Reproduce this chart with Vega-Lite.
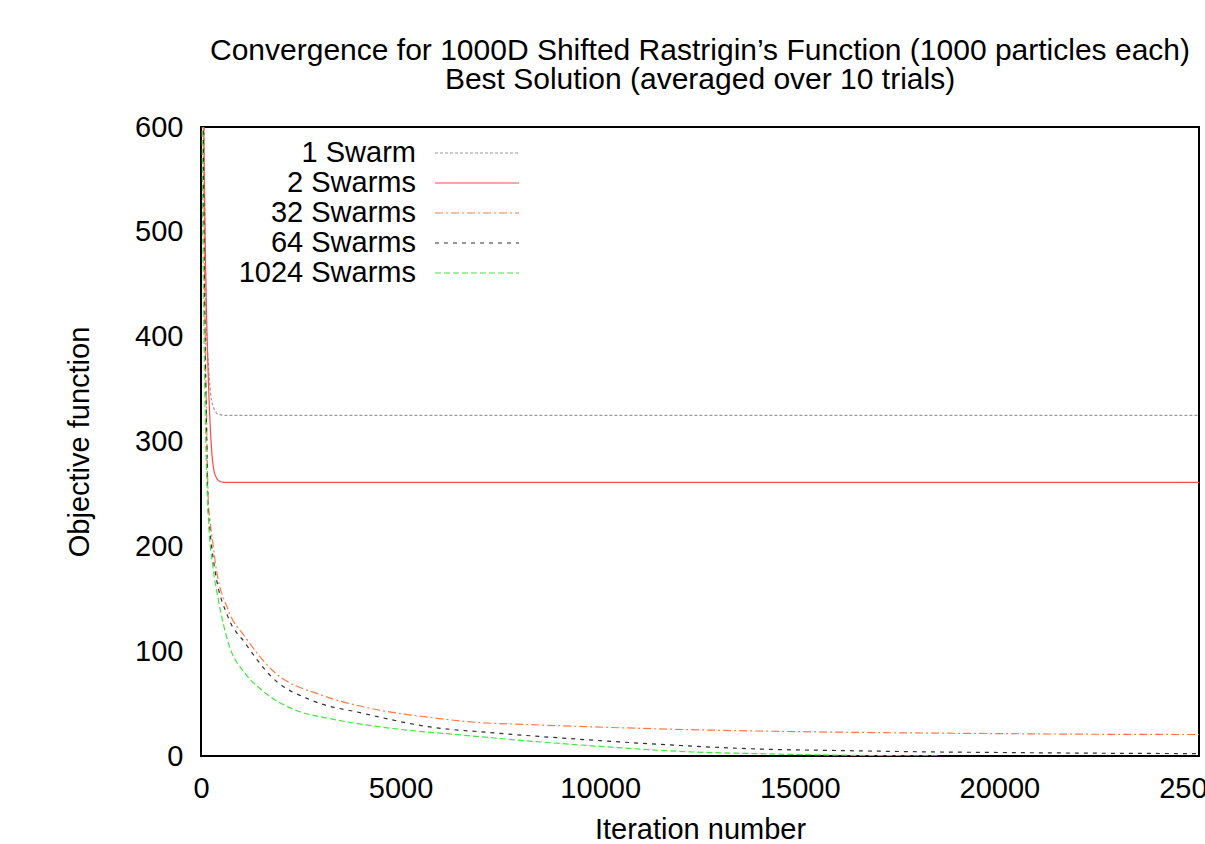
{
  "$schema": "https://vega.github.io/schema/vega-lite/v6.json",
  "width": 998,
  "height": 629,
  "autosize": {"type": "none"},
  "padding": {"left": 201, "top": 127, "right": 6, "bottom": 88},
  "background": "white",
  "title": {
    "text": ["Convergence for 1000D Shifted Rastrigin’s Function (1000 particles each)", "Best Solution (averaged over 10 trials)"],
    "font": "Liberation Sans",
    "fontSize": 30,
    "fontWeight": "normal",
    "color": "black",
    "anchor": "middle",
    "lineHeight": 29,
    "baseline": "bottom",
    "offset": -12
  },
  "data": {
    "values": [
      {"series": "1 Swarm", "iteration": 0, "value": 1000},
      {"series": "1 Swarm", "iteration": 80, "value": 600},
      {"series": "1 Swarm", "iteration": 110, "value": 470},
      {"series": "1 Swarm", "iteration": 130, "value": 416},
      {"series": "1 Swarm", "iteration": 170, "value": 384},
      {"series": "1 Swarm", "iteration": 225, "value": 352},
      {"series": "1 Swarm", "iteration": 308, "value": 333},
      {"series": "1 Swarm", "iteration": 433, "value": 326},
      {"series": "1 Swarm", "iteration": 600, "value": 325},
      {"series": "1 Swarm", "iteration": 25000, "value": 325},

      {"series": "2 Swarms", "iteration": 0, "value": 1000},
      {"series": "2 Swarms", "iteration": 70, "value": 600},
      {"series": "2 Swarms", "iteration": 125, "value": 447},
      {"series": "2 Swarms", "iteration": 175, "value": 370},
      {"series": "2 Swarms", "iteration": 225, "value": 320},
      {"series": "2 Swarms", "iteration": 270, "value": 290},
      {"series": "2 Swarms", "iteration": 308, "value": 276},
      {"series": "2 Swarms", "iteration": 380, "value": 266},
      {"series": "2 Swarms", "iteration": 476, "value": 262},
      {"series": "2 Swarms", "iteration": 600, "value": 261},
      {"series": "2 Swarms", "iteration": 25000, "value": 261},

      {"series": "32 Swarms", "iteration": 0, "value": 1000},
      {"series": "32 Swarms", "iteration": 60, "value": 600},
      {"series": "32 Swarms", "iteration": 100, "value": 420},
      {"series": "32 Swarms", "iteration": 140, "value": 320},
      {"series": "32 Swarms", "iteration": 183, "value": 244},
      {"series": "32 Swarms", "iteration": 225, "value": 225},
      {"series": "32 Swarms", "iteration": 308, "value": 200},
      {"series": "32 Swarms", "iteration": 350, "value": 187},
      {"series": "32 Swarms", "iteration": 684, "value": 139},
      {"series": "32 Swarms", "iteration": 1100, "value": 114},
      {"series": "32 Swarms", "iteration": 1780, "value": 82},
      {"series": "32 Swarms", "iteration": 3030, "value": 58},
      {"series": "32 Swarms", "iteration": 4180, "value": 46},
      {"series": "32 Swarms", "iteration": 5690, "value": 37},
      {"series": "32 Swarms", "iteration": 6940, "value": 32},
      {"series": "32 Swarms", "iteration": 8190, "value": 30},
      {"series": "32 Swarms", "iteration": 9870, "value": 27.7},
      {"series": "32 Swarms", "iteration": 13000, "value": 24.5},
      {"series": "32 Swarms", "iteration": 16260, "value": 22.6},
      {"series": "32 Swarms", "iteration": 19500, "value": 21.5},
      {"series": "32 Swarms", "iteration": 22700, "value": 20.7},
      {"series": "32 Swarms", "iteration": 25000, "value": 20.5},

      {"series": "64 Swarms", "iteration": 0, "value": 1000},
      {"series": "64 Swarms", "iteration": 55, "value": 600},
      {"series": "64 Swarms", "iteration": 95, "value": 420},
      {"series": "64 Swarms", "iteration": 135, "value": 320},
      {"series": "64 Swarms", "iteration": 175, "value": 240},
      {"series": "64 Swarms", "iteration": 225, "value": 215},
      {"series": "64 Swarms", "iteration": 300, "value": 190},
      {"series": "64 Swarms", "iteration": 350, "value": 177},
      {"series": "64 Swarms", "iteration": 684, "value": 132},
      {"series": "64 Swarms", "iteration": 1100, "value": 108},
      {"series": "64 Swarms", "iteration": 1780, "value": 75},
      {"series": "64 Swarms", "iteration": 2780, "value": 53},
      {"series": "64 Swarms", "iteration": 4030, "value": 41},
      {"series": "64 Swarms", "iteration": 5690, "value": 28},
      {"series": "64 Swarms", "iteration": 7360, "value": 22},
      {"series": "64 Swarms", "iteration": 9870, "value": 15},
      {"series": "64 Swarms", "iteration": 12000, "value": 10},
      {"series": "64 Swarms", "iteration": 13930, "value": 6.7},
      {"series": "64 Swarms", "iteration": 16000, "value": 5.2},
      {"series": "64 Swarms", "iteration": 18090, "value": 4},
      {"series": "64 Swarms", "iteration": 20500, "value": 3.2},
      {"series": "64 Swarms", "iteration": 22700, "value": 2.6},
      {"series": "64 Swarms", "iteration": 25000, "value": 2.3},

      {"series": "1024 Swarms", "iteration": 0, "value": 1000},
      {"series": "1024 Swarms", "iteration": 30, "value": 600},
      {"series": "1024 Swarms", "iteration": 70, "value": 420},
      {"series": "1024 Swarms", "iteration": 120, "value": 300},
      {"series": "1024 Swarms", "iteration": 183, "value": 228},
      {"series": "1024 Swarms", "iteration": 300, "value": 180},
      {"series": "1024 Swarms", "iteration": 434, "value": 149},
      {"series": "1024 Swarms", "iteration": 684, "value": 108},
      {"series": "1024 Swarms", "iteration": 1100, "value": 79},
      {"series": "1024 Swarms", "iteration": 1520, "value": 63},
      {"series": "1024 Swarms", "iteration": 2350, "value": 44},
      {"series": "1024 Swarms", "iteration": 3190, "value": 36},
      {"series": "1024 Swarms", "iteration": 4440, "value": 28},
      {"series": "1024 Swarms", "iteration": 6530, "value": 20},
      {"series": "1024 Swarms", "iteration": 9870, "value": 9.5},
      {"series": "1024 Swarms", "iteration": 12250, "value": 4},
      {"series": "1024 Swarms", "iteration": 14000, "value": 2.2},
      {"series": "1024 Swarms", "iteration": 15580, "value": 1},
      {"series": "1024 Swarms", "iteration": 17000, "value": 0.4},
      {"series": "1024 Swarms", "iteration": 18500, "value": 0.1}
    ]
  },
  "mark": {"type": "line", "clip": true, "strokeWidth": 1.2, "interpolate": "monotone"},
  "encoding": {
    "x": {
      "field": "iteration",
      "type": "quantitative",
      "scale": {"domain": [0, 25000], "nice": false, "zero": false},
      "axis": {"title": "Iteration number", "values": [0, 5000, 10000, 15000, 20000, 25000], "format": "d", "labelDx": 4, "labelPadding": 18, "titlePadding": 12, "labelFlush": false, "labelOverlap": false}
    },
    "y": {
      "field": "value",
      "type": "quantitative",
      "scale": {"domain": [0, 600], "nice": false},
      "axis": {"title": "Objective function", "values": [0, 100, 200, 300, 400, 500, 600], "format": "d", "labelPadding": 18, "titlePadding": 40, "labelFlush": false, "labelOverlap": false}
    },
    "color": {
      "field": "series",
      "type": "nominal",
      "scale": {
        "domain": ["1 Swarm", "2 Swarms", "32 Swarms", "64 Swarms", "1024 Swarms"],
        "range": ["#9a9a9a", "#ff4a4a", "#ff7a45", "#303030", "#3ee83e"]
      },
      "legend": {"title": null}
    },
    "strokeDash": {
      "field": "series",
      "type": "nominal",
      "scale": {
        "domain": ["1 Swarm", "2 Swarms", "32 Swarms", "64 Swarms", "1024 Swarms"],
        "range": [[3, 2], [1, 0], [8, 3, 2, 3], [4, 5], [6, 3]]
      },
      "legend": {"title": null}
    }
  },
  "config": {
    "view": {"stroke": "black", "strokeWidth": 2},
    "axis": {
      "grid": false,
      "domain": false,
      "ticks": false,
      "tickSize": 0,
      "labelFont": "Liberation Sans",
      "labelFontSize": 29,
      "labelColor": "black",
      "titleFont": "Liberation Sans",
      "titleFontSize": 29,
      "titleFontWeight": "normal",
      "titleColor": "black"
    },
    "legend": {
      "orient": "none",
      "legendX": 234,
      "legendY": 11,
      "padding": 0,
      "symbolType": "M-3,0H3",
      "symbolSize": 784,
      "symbolOffset": 27,
      "symbolStrokeWidth": 1.2,
      "labelAlign": "right",
      "labelOffset": -76,
      "labelFont": "Liberation Sans",
      "labelFontSize": 29,
      "labelColor": "black",
      "labelLimit": 400,
      "rowPadding": 0
    }
  }
}
